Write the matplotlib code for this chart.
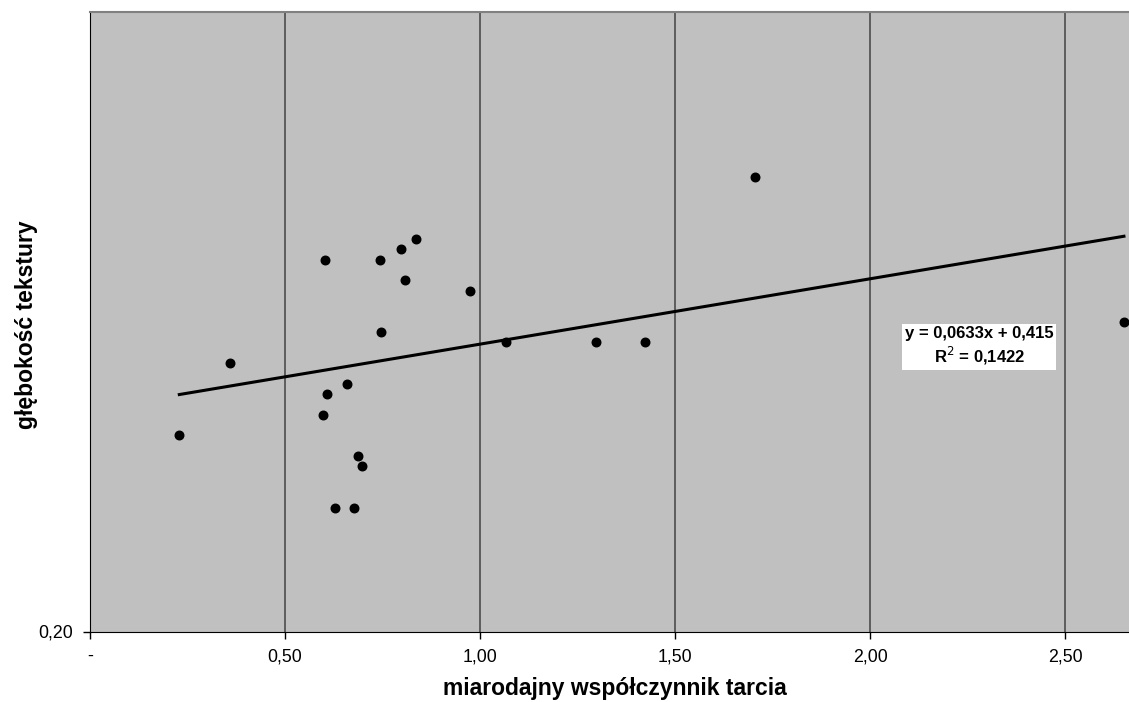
import matplotlib.pyplot as plt
import numpy as np

plt.rcParams['font.family'] = ['Liberation Sans', 'DejaVu Sans']

# miarodajny współczynnik tarcia vs głębokość tekstury
wsp_tarcia = [0.229, 0.359, 0.602, 0.744, 0.797, 0.837, 0.808, 0.747, 0.658,
              0.608, 0.597, 0.687, 0.697, 0.627, 0.677, 0.974, 1.067, 1.297,
              1.423, 1.705, 2.651]
glebokosc = [0.39, 0.46, 0.56, 0.56, 0.57, 0.58, 0.54, 0.49, 0.44,
             0.43, 0.41, 0.37, 0.36, 0.32, 0.32, 0.53, 0.48, 0.48,
             0.48, 0.64, 0.50]

a, b = 0.0633, 0.415
x_ticks = [0, 0.5, 1.0, 1.5, 2.0, 2.5]
x_labels = ['-', '0,50', '1,00', '1,50', '2,00', '2,50']

fig = plt.figure(figsize=(11.29, 7.02), dpi=100)
ax = fig.add_axes([90 / 1129, 70.5 / 702, 1039 / 1129, 619.5 / 702])
ax.set_facecolor('#c0c0c0')

ax.set_xlim(0, 2.664)
ax.set_ylim(0.2, 0.8)

for xv in x_ticks[1:]:
    ax.axvline(xv, color='#555555', lw=1.3, zorder=1)

xs = np.array([min(wsp_tarcia), max(wsp_tarcia)])
ax.plot(xs, a * xs + b, color='black', lw=2.2, zorder=2)
ax.scatter(wsp_tarcia, glebokosc, s=38, color='black', zorder=3)

ax.text(2.28, 0.476, 'y = 0,0633x + 0,415\nR$^2$ = 0,1422', ha='center', va='center',
        fontsize=12, fontweight='bold', linespacing=1.25,
        bbox=dict(facecolor='white', edgecolor='none', pad=2))

ax.set_xticks(x_ticks)
ax.set_xticklabels(x_labels, fontsize=12.8)
ax.set_yticks([0.2])
ax.set_yticklabels(['0,20'], fontsize=12.8)
ax.tick_params(direction='out', length=5, width=1, color='black', pad=7)

ax.spines['left'].set_color('black')
ax.spines['bottom'].set_color('black')
ax.spines['top'].set_color('#808080')
ax.spines['top'].set_linewidth(1.5)
ax.spines['right'].set_visible(False)

ax.set_xlabel('miarodajny współczynnik tarcia', fontsize=16.5, fontweight='bold', va='center')
ax.set_ylabel('głębokość tekstury', fontsize=16.5, fontweight='bold', va='center')
ax.xaxis.set_label_coords((615 - 90) / 1039, -(689 - 631.5) / 619.5)
ax.yaxis.set_label_coords(-(90 - 27) / 1039, 0.495)

plt.savefig('out.png', dpi=100)
